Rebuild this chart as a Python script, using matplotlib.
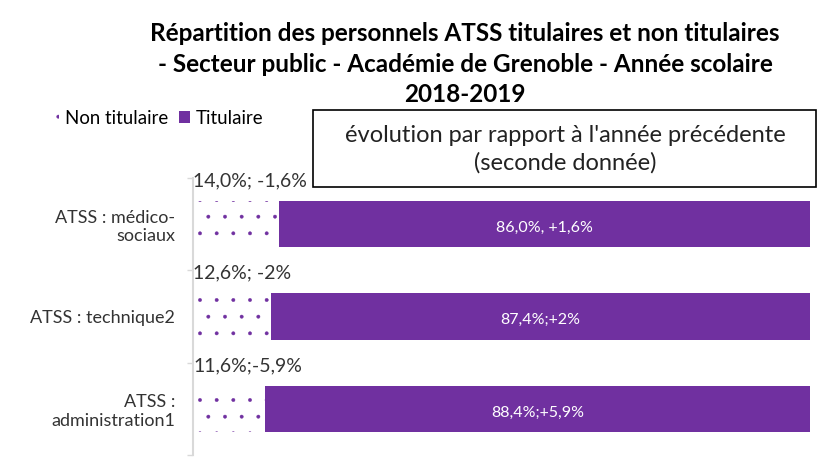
import numpy as np
import matplotlib.pyplot as plt
from matplotlib.patches import Patch, Rectangle

plt.rcParams['font.family'] = ['Lato', 'DejaVu Sans']
plt.rcParams['hatch.linewidth'] = 0.3

# data (bottom to top)
categories = ['ATSS :\nadministration1', 'ATSS : technique2', 'ATSS : médico-\nsociaux']
non_titulaire = [11.6, 12.6, 14.0]
titulaire = [88.4, 87.4, 86.0]
labels_non = ['11,6%;-5,9%', '12,6%; -2%', '14,0%; -1,6%']
labels_tit = ['88,4%;+5,9%', '87,4%;+2%', '86,0%, +1,6%']

purple = '#7030A0'

fig = plt.figure(figsize=(8.19, 4.63), dpi=100)
ax = fig.add_axes([0.2357, 0.0173, 0.7533, 0.5983])

y = np.arange(len(categories))
ax.barh(y, non_titulaire, height=0.5, color='white', edgecolor=purple,
        hatch='.', linewidth=0, label='Non titulaire')
ax.barh(y, titulaire, height=0.5, left=non_titulaire, color=purple,
        label='Titulaire')

for i in range(len(categories)):
    ax.text(0, y[i] + 0.47, labels_non[i], ha='left', va='center',
            fontsize=14, color='#333333')
    ax.text(non_titulaire[i] + titulaire[i] / 2, y[i] - 0.04, labels_tit[i],
            ha='center', va='center', fontsize=11.5, color='white')

ax.set_xlim(0, 100)
ax.set_ylim(-0.5, 2.5)
ax.set_yticks(y)
ax.set_yticklabels(categories, fontsize=13, color='#333333', ha='right',
                   multialignment='right')
ax.tick_params(axis='y', length=0, pad=13)
ax.set_yticks([-0.5, 0.5, 1.5, 2.5], minor=True)
ax.tick_params(axis='y', which='minor', length=4, color='#d9d9d9', width=1)
ax.set_xticks([])
for s in ['top', 'right', 'bottom']:
    ax.spines[s].set_visible(False)
ax.spines['left'].set_color('#d9d9d9')
ax.spines['left'].set_linewidth(1.5)

fig.text(0.568, 1 - 64 / 463, 'Répartition des personnels ATSS titulaires et non titulaires\n'
         '- Secteur public - Académie de Grenoble - Année scolaire\n2018-2019',
         ha='center', va='center', fontsize=17.5, fontweight='bold',
         linespacing=1.41, color='black')

handles = [Patch(facecolor='white', edgecolor=purple, hatch='.', linewidth=0),
           Patch(facecolor=purple)]
fig.legend(handles, ['Non titulaire', 'Titulaire'], loc='center left',
           bbox_to_anchor=(0.038, 1 - 118 / 463), ncol=2, frameon=False,
           fontsize=13.4, handlelength=0.6, handleheight=0.6, handletextpad=0.3,
           columnspacing=0.6)

box = Rectangle((313 / 819, 1 - 187 / 463), (816 - 313) / 819, 77 / 463,
                transform=fig.transFigure, facecolor='white', edgecolor='black',
                linewidth=1.2, clip_on=False)
fig.add_artist(box)
fig.text(565 / 819, 1 - 149 / 463,
         "évolution par rapport à l'année précédente\n(seconde donnée)",
         ha='center', va='center', fontsize=17, linespacing=1.37,
         color='#222222')

fig.savefig('out.png', dpi=100)
